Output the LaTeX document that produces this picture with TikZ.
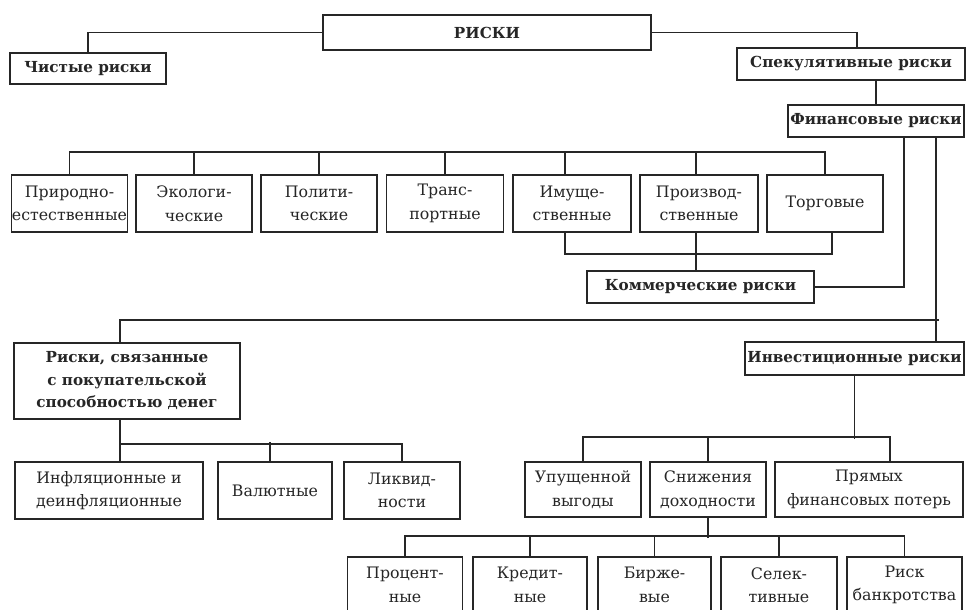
\documentclass[tikz,border=0pt]{standalone}
\usepackage{fontspec}
\setmainfont{DejaVu Serif}
\usetikzlibrary{calc}

\begin{document}
\begin{tikzpicture}[
  x=1pt, y=-1pt,
  box/.style={
    rectangle, draw=black!85, line width=1.6pt, inner sep=0.5pt,
    align=center, text=black!85,
    font=\fontsize{15.8}{23.5}\selectfont
  },
  headbox/.style={box, font=\fontsize{15.2}{22.5}\selectfont\bfseries},
  leaf/.style={box, minimum height=57pt},
  link/.style={draw=black!85, line width=1.6pt},
]
\fill[white] (0,0) rectangle (966,610);
\useasboundingbox (0,0) rectangle (966,610);

% ---- Top levels ----
\node[headbox, minimum width=328pt, minimum height=35pt] (root) at (487,32.5) {РИСКИ};
\node[headbox, minimum width=156pt, minimum height=31pt] (pure) at (88,68.5) {Чистые риски};
\node[headbox, minimum width=228pt, minimum height=32pt] (spec) at (851,64) {Спекулятивные риски};
\node[headbox, minimum width=176pt, minimum height=32pt] (fin) at (876,121) {Финансовые риски};

\draw[link] (root.west) -| (pure.north);
\draw[link] (root.east) -| ([xshift=6pt]spec.north);
\draw[link] (fin.north) -- (fin.north |- spec.south);

% ---- Commercial risks row ----
\node[leaf, minimum width=115pt] (nat) at (69.5,203.5) {Природно-\\естественные};
\node[leaf, minimum width=116pt] (eco) at (194,203.5) {Экологи-\\ческие};
\node[leaf, minimum width=116pt] (pol) at (319,203.5) {Полити-\\ческие};
\node[leaf, minimum width=117pt] (trans) at (445,203.5) {Транс-\\портные};
\node[leaf, minimum width=118pt] (prop) at (572,203.5) {Имуще-\\ственные};
\node[leaf, minimum width=118pt] (prod) at (699,203.5) {Производ-\\ственные};
\node[leaf, minimum width=116pt] (trade) at (825,203.5) {Торговые};

\draw[link] (nat.north) -- ++(0,-22) -| (trade.north);
\draw[link] (eco.north) -- ++(0,-22);
\draw[link] (pol.north) -- ++(0,-22);
\draw[link] (trans.north) -- ++(0,-22);
\draw[link] ([xshift=-7pt]prop.north) -- ++(0,-22);
\draw[link] ([xshift=-3pt]prod.north) -- ++(0,-22);

\node[headbox, minimum width=227pt, minimum height=32pt] (comm) at (700.5,287) {Коммерческие риски};

\draw[link] ([xshift=-7pt]prop.south) -- ++(0,21) -| ([xshift=7pt]trade.south);
\draw[link] ([xshift=-3pt]prod.south) -- ([xshift=-3pt]prod.south |- comm.north);
\draw[link] (comm.east) -| ([xshift=28pt]fin.south);

% ---- Second split ----
\node[headbox, minimum width=226pt, minimum height=76pt] (pp) at (127,381)
  {Риски, связанные\\с покупательской\\способностью денег};
\node[headbox, minimum width=219pt, minimum height=33pt] (inv) at (854.5,358.5) {Инвестиционные риски};

\draw[link] ([xshift=60pt]fin.south) coordinate (finR) -- (finR |- inv.north);
\coordinate (fork) at (939,320);
\draw[link] (fork) -| ([xshift=-7pt]pp.north);

% ---- Purchasing power risks ----
\node[leaf, minimum width=188pt] (infl) at (109,490.5) {Инфляционные и\\деинфляционные};
\node[leaf, minimum width=114pt] (cur) at (275,490.5) {Валютные};
\node[leaf, minimum width=116pt] (liq) at (402,490.5) {Ликвид-\\ности};

\draw[link] ([xshift=-7pt]pp.south) -- ([xshift=-7pt]pp.south |- infl.north);
\draw[link] ([xshift=-7pt]pp.south) ++(0,24) -| (liq.north);
\draw[link] ([xshift=-5pt]cur.north) -- ++(0,-19);

% ---- Investment risks ----
\node[leaf, minimum width=116pt, minimum height=55pt] (lost) at (583,489.5) {Упущенной\\выгоды};
\node[leaf, minimum width=116pt, minimum height=55pt] (yield) at (708,489.5) {Снижения\\доходности};
\node[leaf, minimum width=188pt, minimum height=55pt] (direct) at (869,489.5) {Прямых\\финансовых потерь};

\draw[link] (inv.south) -- ++(0,63);
\draw[link] (lost.north) -- ++(0,-24) -| ([xshift=21pt]direct.north);
\draw[link] (yield.north) -- ++(0,-24);

% ---- Yield loss risks ----
\node[leaf, minimum width=115pt, minimum height=56pt] (pct) at (405,585) {Процент-\\ные};
\node[leaf, minimum width=114pt, minimum height=56pt] (cred) at (530,585) {Кредит-\\ные};
\node[leaf, minimum width=113pt, minimum height=56pt] (exch) at (654.5,585) {Бирже-\\вые};
\node[leaf, minimum width=116pt, minimum height=56pt] (sel) at (779,585) {Селек-\\тивные};
\node[leaf, minimum width=115pt, minimum height=56pt] (bank) at (904.5,585) {Риск\\банкротства};

\draw[link] (yield.south) -- ++(0,20);
\draw[link] (pct.north) -- ++(0,-20) -| (bank.north);
\draw[link] (cred.north) -- ++(0,-20);
\draw[link] (exch.north) -- ++(0,-20);
\draw[link] (sel.north) -- ++(0,-20);

\end{tikzpicture}
\end{document}
